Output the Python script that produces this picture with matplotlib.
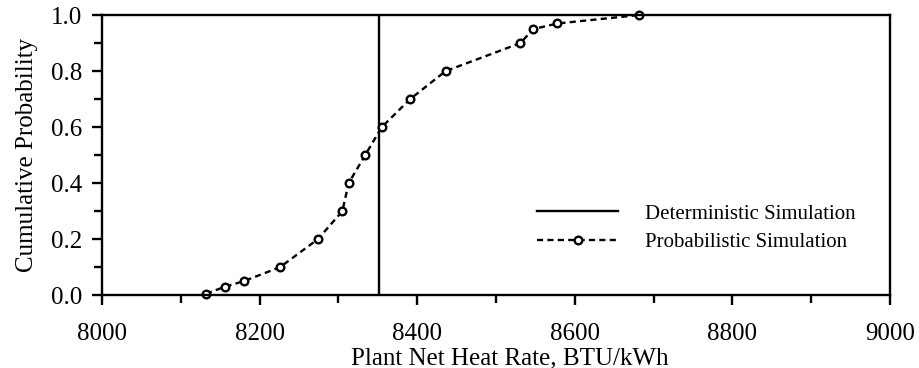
import matplotlib
matplotlib.use("Agg")
import matplotlib.pyplot as plt
from matplotlib.ticker import MultipleLocator

plt.rcParams['font.family'] = ['Liberation Serif', 'DejaVu Serif']

# Data
heat_rate = [8132, 8156, 8180, 8226, 8274, 8305, 8313, 8334, 8355, 8391,
             8436, 8531, 8547, 8578, 8681]
cum_prob = [0.005, 0.03, 0.05, 0.1, 0.2, 0.3, 0.4, 0.5, 0.6, 0.7,
            0.8, 0.9, 0.95, 0.97, 1.0]
deterministic_x = 8352
det_label = "Deterministic Simulation"
prob_label = "Probabilistic Simulation"
xlabel = "Plant Net Heat Rate, BTU/kWh"
ylabel = "Cumulative Probability"

fig = plt.figure(figsize=(9.19, 3.68), dpi=100)
ax = fig.add_axes([0.111, 0.198, 0.8575, 0.761])

ax.plot([deterministic_x, deterministic_x], [0, 1], color='black', lw=1.7,
        label=det_label)
ax.plot(heat_rate, cum_prob, color='black', lw=1.7, dashes=(2.6, 1.8),
        marker='o', markersize=5.5, mfc='white', mec='black', mew=1.7,
        label=prob_label, clip_on=False)

ax.set_xlim(8000, 9000)
ax.set_ylim(0, 1.0)
ax.xaxis.set_major_locator(MultipleLocator(200))
ax.xaxis.set_minor_locator(MultipleLocator(100))
ax.yaxis.set_major_locator(MultipleLocator(0.2))
ax.yaxis.set_minor_locator(MultipleLocator(0.1))
ax.xaxis.set_major_formatter(plt.FuncFormatter(lambda v, p: f"{int(v)}"))
ax.yaxis.set_major_formatter(plt.FuncFormatter(lambda v, p: f"{v:.1f}"))

for s in ax.spines.values():
    s.set_linewidth(1.7)
ax.tick_params(which='major', direction='out', length=7, width=1.7,
               labelsize=18)
ax.tick_params(axis='x', which='major', pad=13)
ax.tick_params(axis='y', which='major', pad=7.5)
ax.tick_params(which='minor', direction='out', length=5.5, width=1.7)

ax.set_xlabel(xlabel, fontsize=18, labelpad=1.5, x=0.518)
ax.set_ylabel(ylabel, fontsize=18, labelpad=9)

leg = ax.legend(loc='center left', bbox_to_anchor=(0.552, 0.24),
                frameon=False, fontsize=15, handlelength=3.9,
                handletextpad=1.3, borderpad=0, borderaxespad=0,
                labelspacing=0.42)

fig.savefig("out.png", dpi=100)
